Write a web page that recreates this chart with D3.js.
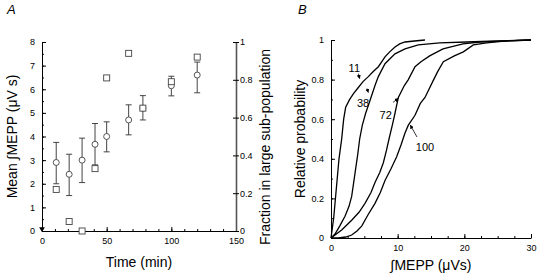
<!DOCTYPE html>
<html>
<head>
<meta charset="utf-8">
<script src="https://cdn.jsdelivr.net/npm/d3@7"></script>
<style>
  body { margin: 0; background: #fff; }
  svg { display: block; font-family: "Liberation Sans", Arial, sans-serif; }
</style>
</head>
<body>
<div id="chart"></div>
<script>
// Panel A: mean integrated MEPP over time, with fraction in large sub-population
const times = [11, 21, 31, 41, 50, 67, 78, 100, 120];
const meanVals = [2.9, 2.4, 3.0, 3.67, 4.0, 4.7, 5.2, 6.15, 6.6];
const errHigh = [3.75, 3.25, 3.93, 4.55, 4.62, 5.34, 5.73, 6.55, 7.15];
const errLow = [2.0, 1.5, 2.05, 2.8, 3.35, 4.07, 4.7, 5.72, 5.85];
const fractions = [0.22, 0.05, 0, 0.33, 0.81, 0.94, 0.65, 0.79, 0.92];

const ticksA_x = [0, 50, 100, 150];
const ticksA_y = [0, 1, 2, 3, 4, 5, 6, 7, 8];
const ticksA_y2 = [0, 0.2, 0.4, 0.6, 0.8, 1];

// Panel B: cumulative distributions (label = time in min)
const curveLabels = ["11", "38", "72", "100"];
const curve11 = [[0,0],[0.4,0.1],[0.8,0.25],[1.2,0.4],[1.6,0.5],[1.9,0.6],[2.2,0.66],[2.8,0.70],[3.4,0.73],[4.1,0.76],[4.8,0.79],[5.6,0.815],[6.3,0.84],[7.1,0.865],[7.6,0.89],[8.1,0.915],[8.8,0.94],[9.6,0.965],[10.3,0.98],[11.1,0.99],[12.5,0.995],[14.1,1.0]];
const curve38 = [[0,0],[0.6,0.02],[1.3,0.06],[2.1,0.11],[2.7,0.16],[3.1,0.21],[3.4,0.28],[3.7,0.35],[4.0,0.42],[4.3,0.5],[4.7,0.57],[5.2,0.63],[6.0,0.71],[6.6,0.77],[7.1,0.815],[8.1,0.88],[9.6,0.93],[11.1,0.955],[13.1,0.975],[16.3,0.985],[20.3,0.99],[25,0.995],[30,1]];
const curve72 = [[0,0],[1.6,0.04],[3.1,0.09],[4.2,0.13],[5.1,0.175],[6.0,0.23],[6.6,0.28],[7.3,0.33],[7.85,0.38],[8.3,0.44],[8.7,0.5],[9.2,0.57],[9.6,0.63],[10.1,0.71],[11.0,0.77],[11.6,0.80],[12.6,0.865],[13.5,0.89],[14.8,0.92],[16.8,0.955],[19.8,0.98],[22.3,0.99],[30,1]];
const curve100 = [[0,0],[1.1,0],[2.2,0.005],[3.1,0.015],[3.9,0.035],[4.6,0.06],[5.6,0.12],[6.6,0.175],[7.4,0.23],[8.1,0.29],[9.0,0.35],[9.85,0.41],[10.5,0.47],[11.1,0.53],[11.6,0.57],[12.6,0.62],[13.4,0.68],[14.1,0.71],[15.4,0.8],[16.0,0.84],[16.85,0.89],[18.5,0.92],[19.85,0.94],[21.35,0.975],[23.35,0.985],[26,0.995],[30,1]];
// label text position and arrow (tail -> tip), in data units
const labelPos = [[3.5, 0.84], [4.8, 0.66], [8.2, 0.6], [14.1, 0.44]];
const arrowTail = [[4.1, 0.83], [5.4, 0.755], [9.3, 0.685], [12.9, 0.51]];
const arrowTip = [[4.3, 0.805], [5.6, 0.735], [10.1, 0.705], [11.9, 0.57]];

const ticksB_x = [0, 10, 20, 30];
const ticksB_y = [0, 0.2, 0.4, 0.6, 0.8, 1];

const width = 539, height = 280;
const svg = d3.select("#chart").append("svg")
  .attr("width", width).attr("height", height);

// ---------- panel A ----------
const xA = d3.scaleLinear().domain([0, 150]).range([42, 236]);
const yA = d3.scaleLinear().domain([0, 8]).range([231, 42]);
const yA2 = d3.scaleLinear().domain([0, 1]).range([231, 42]);

function styleAxis(g) {
  g.selectAll("text").attr("font-size", "9px").attr("fill", "#000");
  g.selectAll("line").attr("stroke", "#000");
  g.select(".domain").attr("stroke", "#000");
}

// minor ticks first
svg.append("g").attr("transform", `translate(0,${yA(0)})`)
  .call(d3.axisBottom(xA).tickValues(d3.range(0, 151, 10)).tickSize(-2).tickFormat(""))
  .call(g => g.select(".domain").remove()).call(styleAxis);
svg.append("g").attr("transform", `translate(${xA(0)},0)`)
  .call(d3.axisLeft(yA).tickValues(d3.range(0, 8.01, 0.5)).tickSize(-2).tickFormat(""))
  .call(g => g.select(".domain").remove()).call(styleAxis);

svg.append("g").attr("transform", `translate(0,${yA(0)})`)
  .call(d3.axisBottom(xA).tickValues(ticksA_x).tickSize(-4).tickSizeOuter(0).tickPadding(7))
  .call(styleAxis);
svg.append("g").attr("transform", `translate(${xA(0)},0)`)
  .call(d3.axisLeft(yA).tickValues(ticksA_y).tickSize(-4).tickSizeOuter(0).tickPadding(7))
  .call(styleAxis);

const rightAx = svg.append("g").attr("transform", `translate(${xA(150)},0)`)
  .call(d3.axisRight(yA2).tickValues(ticksA_y2).tickSize(3).tickSizeOuter(0).tickPadding(1)
    .tickFormat(d => d === 0 || d === 1 ? d3.format("d")(d) : d3.format(".1f")(d)))
  .call(styleAxis);
rightAx.select(".domain").attr("stroke", "#555").attr("stroke-width", 1.6);
rightAx.selectAll(".tick line").attr("x1", -3);
rightAx.selectAll(".tick text").attr("dy", "0.32em");

// origin marker
svg.append("path")
  .attr("d", d3.symbol(d3.symbolTriangle, 14)())
  .attr("transform", `translate(${xA(0)},${yA(0) - 2}) rotate(180)`)
  .attr("fill", "#000");

// error bars
const bars = svg.append("g").attr("stroke", "#444").attr("stroke-width", 1);
times.forEach((t, i) => {
  const x = xA(t);
  bars.append("line").attr("x1", x).attr("x2", x).attr("y1", yA(errLow[i])).attr("y2", yA(errHigh[i]));
  bars.append("line").attr("x1", x - 3).attr("x2", x + 3).attr("y1", yA(errLow[i])).attr("y2", yA(errLow[i]));
  bars.append("line").attr("x1", x - 3).attr("x2", x + 3).attr("y1", yA(errHigh[i])).attr("y2", yA(errHigh[i]));
});

svg.append("g").selectAll("circle").data(times).join("circle")
  .attr("cx", d => xA(d)).attr("cy", (d, i) => yA(meanVals[i])).attr("r", 3)
  .attr("fill", "#fff").attr("stroke", "#444").attr("stroke-width", 0.9);

svg.append("g").selectAll("rect").data(times).join("rect")
  .attr("x", d => xA(d) - 3).attr("y", (d, i) => yA2(fractions[i]) - 3)
  .attr("width", 6).attr("height", 6)
  .attr("fill", "#fff").attr("stroke", "#444").attr("stroke-width", 0.9);

svg.append("text").attr("x", xA(75)).attr("y", 267).attr("text-anchor", "middle")
  .attr("font-size", "14px").text("Time (min)");
svg.append("text").attr("transform", `translate(17,${yA(4)}) rotate(-90)`)
  .attr("text-anchor", "middle").attr("font-size", "14px").text("Mean ∫MEPP (μV s)");
svg.append("text").attr("transform", `translate(270,147) rotate(-90)`)
  .attr("text-anchor", "middle").attr("font-size", "14px").text("Fraction in large sub-population");
svg.append("text").attr("x", 7).attr("y", 14).attr("font-size", "13px")
  .attr("font-style", "italic").text("A");

// ---------- panel B ----------
const xB = d3.scaleLinear().domain([0, 30]).range([331, 531]);
const yB = d3.scaleLinear().domain([0, 1]).range([238, 40]);

svg.append("g").attr("transform", `translate(0,${yB(0)})`)
  .call(d3.axisBottom(xB).tickValues(d3.range(0, 30.01, 2.5)).tickSize(-2).tickFormat(""))
  .call(g => g.select(".domain").remove()).call(styleAxis);
svg.append("g").attr("transform", `translate(${xB(0)},0)`)
  .call(d3.axisLeft(yB).tickValues(d3.range(0, 1.001, 0.1)).tickSize(-2).tickFormat(""))
  .call(g => g.select(".domain").remove()).call(styleAxis);

svg.append("g").attr("transform", `translate(0,${yB(0)})`)
  .call(d3.axisBottom(xB).tickValues(ticksB_x).tickSize(-4).tickSizeOuter(0).tickPadding(7))
  .call(styleAxis);
svg.append("g").attr("transform", `translate(${xB(0)},0)`)
  .call(d3.axisLeft(yB).tickValues(ticksB_y).tickSize(-4).tickSizeOuter(0).tickPadding(7)
    .tickFormat(d => d === 0 || d === 1 ? d3.format("d")(d) : d3.format(".1f")(d)))
  .call(styleAxis);

const line = d3.line().x(d => xB(d[0])).y(d => yB(d[1]));
svg.append("g").selectAll("path").data([curve11, curve38, curve72, curve100]).join("path")
  .attr("d", line).attr("fill", "none").attr("stroke", "#000").attr("stroke-width", 1.3);

svg.append("defs").append("marker").attr("id", "ah")
  .attr("viewBox", "0 0 10 10").attr("refX", 9).attr("refY", 5)
  .attr("markerWidth", 5).attr("markerHeight", 5).attr("orient", "auto")
  .append("path").attr("d", "M0,0L10,5L0,10z").attr("fill", "#000");

curveLabels.forEach((lab, i) => {
  svg.append("text").attr("x", xB(labelPos[i][0])).attr("y", yB(labelPos[i][1]))
    .attr("text-anchor", "middle").attr("font-size", "11px").text(lab);
  svg.append("line")
    .attr("x1", xB(arrowTail[i][0])).attr("y1", yB(arrowTail[i][1]))
    .attr("x2", xB(arrowTip[i][0])).attr("y2", yB(arrowTip[i][1]))
    .attr("stroke", "#000").attr("stroke-width", 0.8).attr("marker-end", "url(#ah)");
});

svg.append("text").attr("x", xB(15)).attr("y", 270).attr("text-anchor", "middle")
  .attr("font-size", "14px").text("∫MEPP (μVs)");
svg.append("text").attr("transform", `translate(305,${yB(0.5)}) rotate(-90)`)
  .attr("text-anchor", "middle").attr("font-size", "14px").text("Relative probability");
svg.append("text").attr("x", 298).attr("y", 14).attr("font-size", "13px")
  .attr("font-style", "italic").text("B");
</script>
</body>
</html>
